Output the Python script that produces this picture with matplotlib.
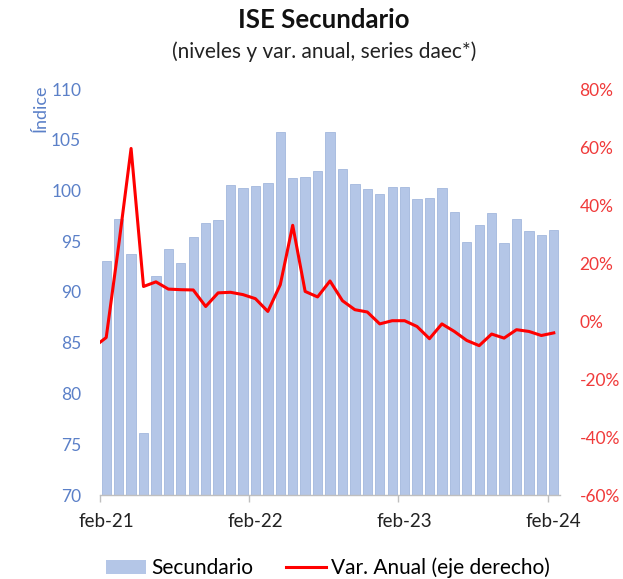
import matplotlib
matplotlib.use("Agg")
import matplotlib.pyplot as plt
from matplotlib.lines import Line2D
from matplotlib.patches import Patch
from matplotlib.ticker import FuncFormatter, FixedLocator

plt.rcParams['font.family'] = ['Lato', 'DejaVu Sans']

# monthly index, feb-21 .. feb-24
meses = ['feb-21', 'mar-21', 'abr-21', 'may-21', 'jun-21', 'jul-21', 'ago-21', 'sep-21',
         'oct-21', 'nov-21', 'dic-21', 'ene-22', 'feb-22', 'mar-22', 'abr-22', 'may-22',
         'jun-22', 'jul-22', 'ago-22', 'sep-22', 'oct-22', 'nov-22', 'dic-22', 'ene-23',
         'feb-23', 'mar-23', 'abr-23', 'may-23', 'jun-23', 'jul-23', 'ago-23', 'sep-23',
         'oct-23', 'nov-23', 'dic-23', 'ene-24', 'feb-24']
secundario = [93.1, 97.2, 93.7, 76.1, 91.6, 94.2, 92.9, 95.4, 96.8, 97.1, 100.5, 100.2,
              100.4, 100.7, 105.8, 101.2, 101.3, 101.9, 105.8, 102.1, 100.6, 100.1, 99.7,
              100.3, 100.3, 99.2, 99.3, 100.2, 97.9, 94.9, 96.6, 97.8, 94.8, 97.2, 96.0,
              95.6, 96.1]
# annual variation (%), starts one month earlier (ene-21) so the line enters from the edge
var_anual = [-9.0, -5.7, 26.0, 59.5, 11.9, 13.5, 11.0, 10.8, 10.7, 5.0, 9.7, 9.9, 9.1,
             7.7, 3.3, 12.5, 33.0, 10.2, 8.3, 13.8, 7.0, 3.9, 3.1, -1.0, 0.1, 0.1, -1.9,
             -6.1, -1.0, -3.6, -6.7, -8.5, -4.5, -5.9, -3.0, -3.6, -5.0, -4.1]
x_labels = ['feb-21', 'feb-22', 'feb-23', 'feb-24']

bar_color = '#B4C6E7'
blue_txt = '#5B80C8'
red = '#FF0000'

fig = plt.figure(figsize=(6.23, 5.79), dpi=100)
W, H = 623, 579
ax = fig.add_axes([100 / W, 1 - 495 / H, 460 / W, 406 / H])

xs = list(range(len(secundario)))
ax.bar(xs, secundario, width=0.75, color=bar_color, edgecolor='#A3B7DD',
       linewidth=0.6, zorder=2)
ax.set_xlim(-0.5, len(secundario) - 0.5)
ax.set_ylim(70, 110)
ax.set_yticks(range(70, 111, 5))
ax.tick_params(axis='y', length=0, colors=blue_txt, labelsize=12.5, pad=13.5)

label_pos = [meses.index(m) for m in x_labels]
ax.xaxis.set_major_locator(FixedLocator(label_pos))
ax.set_xticklabels(x_labels)
ax.xaxis.set_minor_locator(FixedLocator([p - 0.5 for p in label_pos]))
ax.tick_params(axis='x', which='major', length=0, labelsize=13.5, pad=13,
               labelcolor='#222222')
ax.tick_params(axis='x', which='minor', length=5, color='#BFBFBF', width=1)

for s in ['top', 'right', 'left']:
    ax.spines[s].set_visible(False)
ax.spines['bottom'].set_color('#BFBFBF')
ax.spines['bottom'].set_linewidth(1)

fig.text(41 / W, 1 - 108 / H, 'Índice', rotation=90, ha='center', va='center',
         color=blue_txt, fontsize=13)

ax2 = ax.twinx()
ax2.plot([x - 1 for x in range(len(var_anual))], var_anual, color=red,
         linewidth=2.2, zorder=3)
ax2.set_xlim(-0.5, len(secundario) - 0.5)
ax2.set_ylim(-60, 80)
ax2.set_yticks(range(-60, 81, 20))
ax2.yaxis.set_major_formatter(FuncFormatter(lambda v, p: f'{v:.0f}%'))
ax2.tick_params(axis='y', length=0, colors='#F03A3A', labelsize=12.5, pad=14)
for s in ['top', 'right', 'left', 'bottom']:
    ax2.spines[s].set_visible(False)

fig.text(324 / W, 1 - 20 / H, 'ISE Secundario', ha='center', va='center',
         fontsize=18.5, fontweight='bold', color='#111111')
fig.text(324 / W, 1 - 52 / H, '(niveles y var. anual, series daec*)', ha='center',
         va='center', fontsize=15, color='#222222')

handles = [Patch(facecolor=bar_color, edgecolor='none'),
           Line2D([0], [0], color=red, linewidth=2.2)]
fig.legend(handles, ['Secundario', 'Var. Anual (eje derecho)'], loc='center',
           bbox_to_anchor=(328 / W, 1 - 568 / H), ncol=2, frameon=False,
           fontsize=15, handlelength=1.9, handleheight=0.63,
           columnspacing=1.6, handletextpad=0.25)

fig.savefig('out.png', dpi=100)
